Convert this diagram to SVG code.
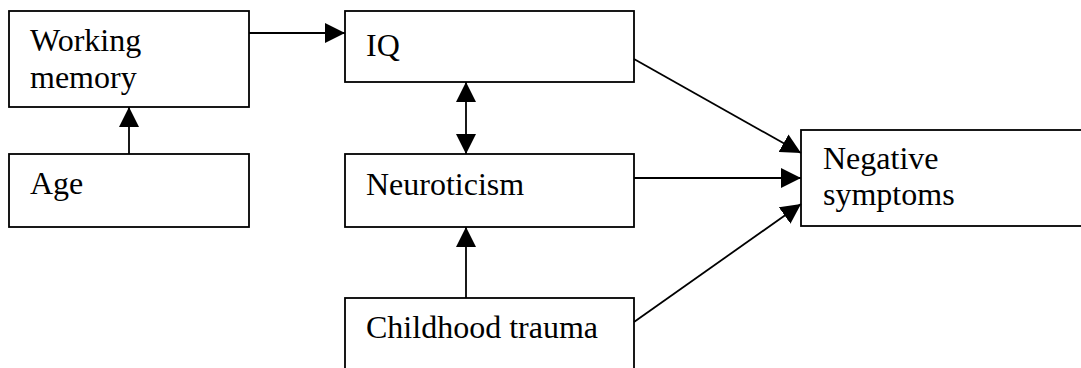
<svg xmlns="http://www.w3.org/2000/svg" width="1081" height="368" viewBox="0 0 1081 368">
  <style>
    .box { fill: #ffffff; stroke: #000000; stroke-width: 1.8; }
    .edge { fill: none; stroke: #000000; stroke-width: 1.8; }
  </style>
  <defs>
    <marker id="head" markerUnits="userSpaceOnUse" markerWidth="20" markerHeight="20" viewBox="0 0 20 20" refX="20" refY="10" orient="auto-start-reverse">
      <path d="M0,0 L20,10 L0,20 z" fill="#000000"/>
    </marker>
  </defs>
  <rect width="1081" height="368" fill="#ffffff"/>

  <g id="node-working-memory">
    <rect class="box" x="9" y="11" width="240" height="96"/>
    <text x="30" y="51" style="font-family:'Liberation Serif';font-size:32px">Working</text>
    <text x="30" y="88" style="font-family:'Liberation Serif';font-size:32px">memory</text>
  </g>
  <g id="node-age">
    <rect class="box" x="9" y="154" width="240" height="73"/>
    <text x="30" y="194" style="font-family:'Liberation Serif';font-size:32px">Age</text>
  </g>
  <g id="node-iq">
    <rect class="box" x="345" y="11" width="289" height="71"/>
    <text x="366" y="56" style="font-family:'Liberation Serif';font-size:32px">IQ</text>
  </g>
  <g id="node-neuroticism">
    <rect class="box" x="345" y="154" width="289" height="73"/>
    <text x="366" y="195" style="font-family:'Liberation Serif';font-size:32px">Neuroticism</text>
  </g>
  <g id="node-childhood-trauma">
    <rect class="box" x="345" y="298" width="289" height="80"/>
    <text x="366" y="338" style="font-family:'Liberation Serif';font-size:32px">Childhood trauma</text>
  </g>
  <g id="node-negative-symptoms">
    <rect class="box" x="801" y="130" width="290" height="96"/>
    <text x="823" y="169" style="font-family:'Liberation Serif';font-size:32px">Negative</text>
    <text x="823" y="205" style="font-family:'Liberation Serif';font-size:32px">symptoms</text>
  </g>

  <g id="connectors">
    <line class="edge" x1="129" y1="154" x2="129" y2="107" marker-end="url(#head)"/>
    <line class="edge" x1="249" y1="33" x2="345" y2="33" marker-end="url(#head)"/>
    <line class="edge" x1="466" y1="82" x2="466" y2="154" marker-start="url(#head)" marker-end="url(#head)"/>
    <line class="edge" x1="466" y1="298" x2="466" y2="227" marker-end="url(#head)"/>
    <line class="edge" x1="634" y1="59" x2="801" y2="153" marker-end="url(#head)"/>
    <line class="edge" x1="634" y1="178" x2="801" y2="178" marker-end="url(#head)"/>
    <line class="edge" x1="634" y1="322" x2="801" y2="204" marker-end="url(#head)"/>
  </g>
</svg>
